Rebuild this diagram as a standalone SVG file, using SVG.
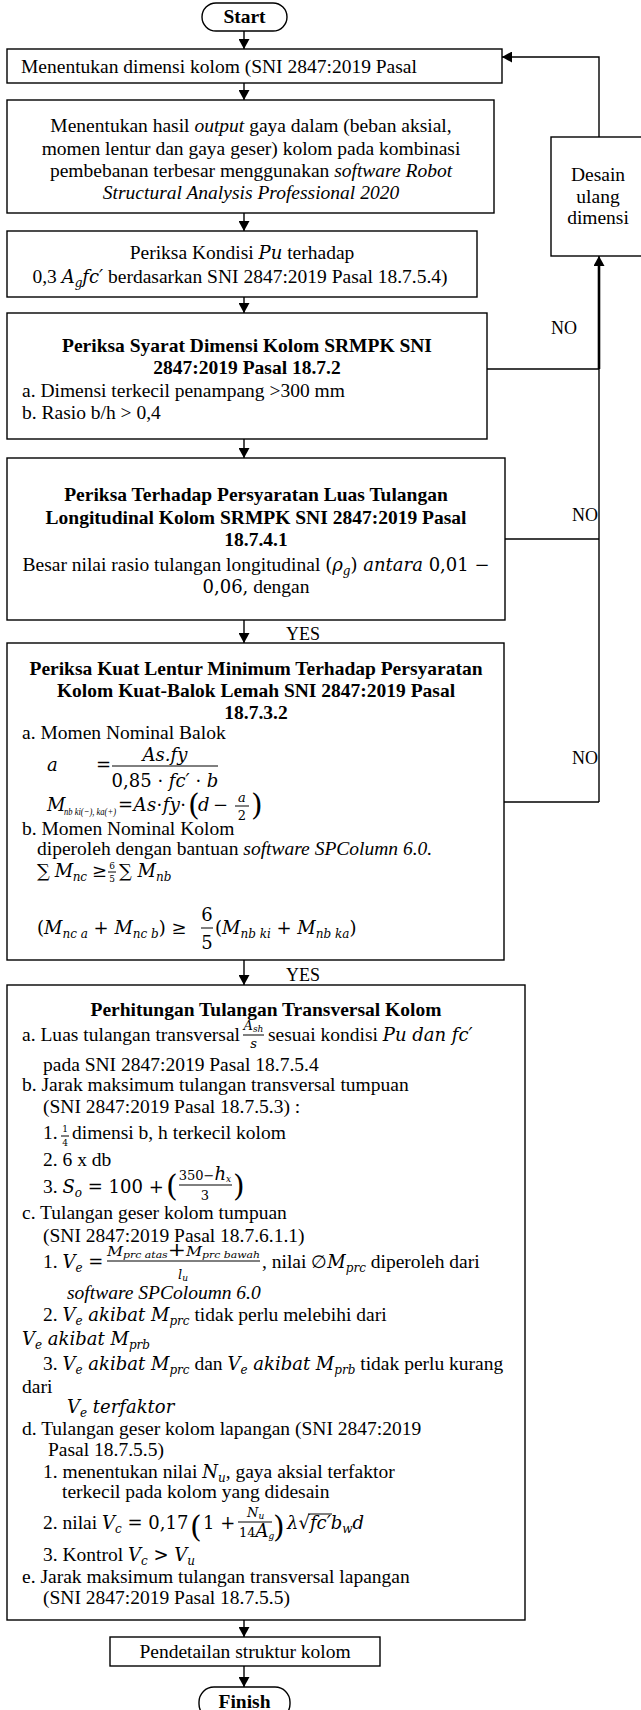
<svg xmlns="http://www.w3.org/2000/svg" width="641" height="1710" viewBox="0 0 641 1710">
<defs>
<style>
text { font-family: "Liberation Serif", "Times New Roman", serif; font-size: 19.5px; fill: #000; }
.b { font-weight: bold; }
.i { font-style: italic; }
.c { text-anchor: middle; }
.e { text-anchor: end; }
.m { font-family: "DejaVu Serif", serif; font-style: italic; font-size: 18px; }
.mu { font-family: "DejaVu Serif", serif; font-style: normal; font-size: 18px; }
.li { font-family: "Liberation Serif", serif; font-style: italic; font-size: 10.5px; }
.s { font-size: 12px; }
.fr { font-size: 13px; }
.fs { font-size: 9px; }
.big { font-family: "DejaVu Serif", serif; font-style: normal; font-size: 30px; }
.lbl { font-size: 18px; }
.box { fill: #fff; stroke: #000; stroke-width: 1.4; }
.ln { fill: none; stroke: #000; stroke-width: 1.4; }
.bar { stroke: #000; stroke-width: 1; }
</style>
<marker id="ah" viewBox="0 0 10 11" refX="10" refY="5.5" markerWidth="10" markerHeight="11" markerUnits="userSpaceOnUse" orient="auto"><path d="M0,0 L10,5.5 L0,11 Z" fill="#000"/></marker>
</defs>
<rect width="641" height="1710" fill="#fff"/>

<g id="connectors">
<g class="ln">
<line x1="244" y1="31" x2="244" y2="49" marker-end="url(#ah)"/>
<line x1="244" y1="83" x2="244" y2="100" marker-end="url(#ah)"/>
<line x1="244" y1="213" x2="244" y2="231" marker-end="url(#ah)"/>
<line x1="244" y1="297" x2="244" y2="313" marker-end="url(#ah)"/>
<line x1="244" y1="439" x2="244" y2="458" marker-end="url(#ah)"/>
<line x1="244" y1="620" x2="244" y2="643" marker-end="url(#ah)"/>
<line x1="244" y1="960" x2="244" y2="985" marker-end="url(#ah)"/>
<line x1="244" y1="1620" x2="244" y2="1637" marker-end="url(#ah)"/>
<line x1="244" y1="1666" x2="244" y2="1687" marker-end="url(#ah)"/>
<polyline points="599,137 599,57 502,57" marker-end="url(#ah)"/>
<line x1="599" y1="802" x2="599" y2="256" marker-end="url(#ah)"/>
<line x1="599" y1="266" x2="599" y2="369" stroke-width="2.6"/>
<line x1="487" y1="369" x2="599" y2="369"/>
<line x1="505" y1="539" x2="599" y2="539"/>
<line x1="504" y1="802" x2="599" y2="802"/>
</g>
<text x="286" y="640" class="lbl">YES</text>
<text x="286" y="981" class="lbl">YES</text>
<text x="551" y="334" class="lbl">NO</text>
<text x="598" y="521" class="lbl e">NO</text>
<text x="598" y="764" class="lbl e">NO</text>
</g>

<g id="start">
<rect x="202" y="3" width="85" height="28" rx="14" class="box"/>
<text x="244.5" y="23" class="b c">Start</text>
</g>

<g id="n1">
<rect x="7" y="49" width="495" height="34" class="box"/>
<text x="21" y="73">Menentukan dimensi kolom (SNI 2847:2019 Pasal</text>
</g>

<g id="n2">
<rect x="7" y="100" width="487" height="113" class="box"/>
<text x="251" y="132" class="c">Menentukan hasil <tspan class="i">output</tspan> gaya dalam (beban aksial,</text>
<text x="251" y="154.5" class="c">momen lentur dan gaya geser) kolom pada kombinasi</text>
<text x="251" y="177" class="c">pembebanan terbesar menggunakan <tspan class="i">software Robot</tspan></text>
<text x="251" y="199" class="c i">Structural Analysis Professional 2020</text>
</g>

<g id="n3">
<rect x="7" y="231" width="470" height="66" class="box"/>
<text x="242" y="259" class="c">Periksa Kondisi <tspan class="m">Pu</tspan> terhadap</text>
<text x="240" y="283" class="c">0,3 <tspan class="m">A</tspan><tspan class="m s" dy="4">g</tspan><tspan class="m" dy="-4">fc′</tspan> berdasarkan SNI 2847:2019 Pasal 18.7.5.4)</text>
</g>

<g id="n4">
<rect x="7" y="313" width="480" height="126" class="box"/>
<text x="247" y="352" class="c b">Periksa Syarat Dimensi Kolom SRMPK SNI</text>
<text x="247" y="374" class="c b">2847:2019 Pasal 18.7.2</text>
<text x="22" y="397">a. Dimensi terkecil penampang &gt;300 mm</text>
<text x="22" y="419">b. Rasio b/h &gt; 0,4</text>
</g>

<g id="n5">
<rect x="7" y="458" width="498" height="162" class="box"/>
<text x="256" y="501" class="c b">Periksa Terhadap Persyaratan Luas Tulangan</text>
<text x="256" y="524" class="c b">Longitudinal Kolom SRMPK SNI 2847:2019 Pasal</text>
<text x="256" y="546" class="c b">18.7.4.1</text>
<text x="256" y="571" class="c">Besar nilai rasio tulangan longitudinal <tspan class="mu">(</tspan><tspan class="m">ρ</tspan><tspan class="m s" dy="4">g</tspan><tspan class="mu" dy="-4">) </tspan><tspan class="m">antara</tspan><tspan class="mu"> 0,01 −</tspan></text>
<text x="256" y="593" class="c"><tspan class="mu">0,06,</tspan> dengan</text>
</g>

<g id="n6">
<rect x="7" y="643" width="497" height="317" class="box"/>
<text x="256" y="675" class="c b">Periksa Kuat Lentur Minimum Terhadap Persyaratan</text>
<text x="256" y="697" class="c b">Kolom Kuat-Balok Lemah SNI 2847:2019 Pasal</text>
<text x="256" y="719" class="c b">18.7.3.2</text>
<text x="22" y="739">a. Momen Nominal Balok</text>
<text x="47" y="771" class="m">a</text>
<text x="96" y="771" class="mu">=</text>
<text x="165" y="761" class="m c">As.fy</text>
<line x1="112" y1="766" x2="218" y2="766" class="bar"/>
<text x="165" y="787" class="mu c">0,85 · <tspan class="m">fc′</tspan> · <tspan class="m">b</tspan></text>
<text x="47" y="811" class="m">M</text>
<text x="64" y="815" class="li" textLength="52" lengthAdjust="spacingAndGlyphs">nb ki(−), ka(+)</text>
<text x="118" y="811" class="mu" textLength="68" lengthAdjust="spacing">=<tspan class="m">As</tspan>·<tspan class="m">fy</tspan>·</text>
<text x="188" y="815" class="big" font-size="26">(</text>
<text x="198" y="811" class="m">d</text>
<text x="213" y="811" class="mu">−</text>
<text x="242" y="802" class="m c fr">a</text>
<line x1="235" y1="806" x2="249" y2="806" class="bar"/>
<text x="242" y="820" class="mu c fr">2</text>
<text x="251" y="815" class="big" font-size="26">)</text>
<text x="22" y="835">b. Momen Nominal Kolom</text>
<text x="37" y="855">diperoleh dengan bantuan <tspan class="i">software SPColumn 6.0.</tspan></text>
<text x="37" y="877" textLength="70" lengthAdjust="spacing"><tspan class="mu">∑ </tspan><tspan class="m">M</tspan><tspan class="m s" dy="4">nc</tspan><tspan class="mu" dy="-4"> ≥</tspan></text>
<text x="112" y="869" class="mu c fs">6</text>
<line x1="108" y1="872" x2="116" y2="872" class="bar"/>
<text x="112" y="882" class="mu c fs">5</text>
<text x="119" y="877"><tspan class="mu">∑ </tspan><tspan class="m">M</tspan><tspan class="m s" dy="4">nb</tspan></text>
<text x="37" y="934"><tspan class="mu">(</tspan><tspan class="m">M</tspan><tspan class="m s" dy="4">nc a</tspan><tspan class="mu" dy="-4"> + </tspan><tspan class="m">M</tspan><tspan class="m s" dy="4">nc b</tspan><tspan class="mu" dy="-4">) ≥</tspan></text>
<text x="207" y="921" class="mu c">6</text>
<line x1="201" y1="928" x2="213" y2="928" class="bar"/>
<text x="207" y="949" class="mu c">5</text>
<text x="215" y="934"><tspan class="mu">(</tspan><tspan class="m">M</tspan><tspan class="m s" dy="4">nb ki</tspan><tspan class="mu" dy="-4"> + </tspan><tspan class="m">M</tspan><tspan class="m s" dy="4">nb ka</tspan><tspan class="mu" dy="-4">)</tspan></text>
</g>

<g id="n7">
<rect x="7" y="985" width="518" height="635" class="box"/>
<text x="266" y="1016" class="c b">Perhitungan Tulangan Transversal Kolom</text>
<text x="22" y="1041" textLength="218" lengthAdjust="spacing">a. Luas tulangan transversal</text>
<text x="243.5" y="1030" class="m fr">A<tspan class="fs" dy="2">sh</tspan></text>
<line x1="243" y1="1035" x2="264" y2="1035" class="bar"/>
<text x="253.5" y="1048" class="m c fr">s</text>
<text x="268" y="1041">sesuai kondisi <tspan class="m">Pu dan fc′</tspan></text>
<text x="43" y="1071">pada SNI 2847:2019 Pasal 18.7.5.4</text>
<text x="22" y="1091">b. Jarak maksimum tulangan transversal tumpuan</text>
<text x="43" y="1113">(SNI 2847:2019 Pasal 18.7.5.3) :</text>
<text x="43" y="1139">1.</text>
<text x="65" y="1132" class="mu c fs">1</text>
<line x1="61" y1="1136" x2="69" y2="1136" class="bar"/>
<text x="65" y="1146" class="mu c fs">4</text>
<text x="72" y="1139">dimensi b, h terkecil kolom</text>
<text x="43" y="1166">2. 6 x db</text>
<text x="43" y="1193">3. <tspan class="m">S</tspan><tspan class="m s" dy="4">o</tspan><tspan class="mu" dy="-4"> = 100 +</tspan></text>
<text x="166" y="1196" class="big">(</text>
<text x="205" y="1180" class="mu c fr">350−<tspan class="m">h</tspan><tspan class="m fs" dy="2">x</tspan></text>
<line x1="179" y1="1185" x2="232" y2="1185" class="bar"/>
<text x="205" y="1200" class="mu c fr">3</text>
<text x="233" y="1196" class="big">)</text>
<text x="22" y="1219">c. Tulangan geser kolom tumpuan</text>
<text x="43" y="1242">(SNI 2847:2019 Pasal 18.7.6.1.1)</text>
<text x="43" y="1268">1. <tspan class="m">V</tspan><tspan class="m s" dy="4">e</tspan><tspan class="mu" dy="-4"> =</tspan></text>
<text x="107" y="1256" class="m fr" textLength="153" lengthAdjust="spacingAndGlyphs">M<tspan class="fs" dy="2">prc atas</tspan><tspan class="mu" dy="-2">+</tspan>M<tspan class="fs" dy="2">prc bawah</tspan></text>
<line x1="107" y1="1261" x2="260" y2="1261" class="bar"/>
<text x="178" y="1279" class="m fr">l<tspan class="fs" dy="2">u</tspan></text>
<text x="262" y="1268">, nilai <tspan class="mu">∅</tspan><tspan class="m">M</tspan><tspan class="m s" dy="4">prc</tspan><tspan dy="-4"> diperoleh dari</tspan></text>
<text x="67" y="1299" class="i">software SPColoumn 6.0</text>
<text x="43" y="1321">2. <tspan class="m">V</tspan><tspan class="m s" dy="4">e</tspan><tspan class="m" dy="-4"> akibat M</tspan><tspan class="m s" dy="4">prc</tspan><tspan dy="-4"> tidak perlu melebihi dari</tspan></text>
<text x="22" y="1345"><tspan class="m">V</tspan><tspan class="m s" dy="4">e</tspan><tspan class="m" dy="-4"> akibat M</tspan><tspan class="m s" dy="4">prb</tspan></text>
<text x="43" y="1370">3. <tspan class="m">V</tspan><tspan class="m s" dy="4">e</tspan><tspan class="m" dy="-4"> akibat M</tspan><tspan class="m s" dy="4">prc</tspan><tspan dy="-4"> dan </tspan><tspan class="m">V</tspan><tspan class="m s" dy="4">e</tspan><tspan class="m" dy="-4"> akibat M</tspan><tspan class="m s" dy="4">prb</tspan><tspan dy="-4"> tidak perlu kurang</tspan></text>
<text x="22" y="1393">dari</text>
<text x="67" y="1413"><tspan class="m">V</tspan><tspan class="m s" dy="4">e</tspan><tspan class="m" dy="-4"> terfaktor</tspan></text>
<text x="22" y="1435">d. Tulangan geser kolom lapangan (SNI 2847:2019</text>
<text x="48" y="1456">Pasal 18.7.5.5)</text>
<text x="43" y="1478">1. menentukan nilai <tspan class="m">N</tspan><tspan class="m s" dy="4">u</tspan><tspan dy="-4">, gaya aksial terfaktor</tspan></text>
<text x="62" y="1498">terkecil pada kolom yang didesain</text>
<text x="43" y="1529">2. nilai <tspan class="m">V</tspan><tspan class="m s" dy="4">c</tspan><tspan class="mu" dy="-4"> = 0,17</tspan></text>
<text x="190" y="1537" class="big" font-size="38">(</text>
<text x="203" y="1529" class="mu">1 +</text>
<text x="247" y="1517" class="m fr">N<tspan class="fs" dy="2">u</tspan></text>
<line x1="238" y1="1522" x2="272" y2="1522" class="bar"/>
<text x="239" y="1537" class="mu fr">14<tspan class="m">A</tspan><tspan class="m fs" dy="2">g</tspan></text>
<text x="273" y="1537" class="big" font-size="38">)</text>
<text x="287" y="1529"><tspan class="m">λ</tspan><tspan class="mu">√</tspan><tspan class="m">fc′</tspan><tspan class="m">b</tspan><tspan class="m s" dy="4">w</tspan><tspan class="m" dy="-4">d</tspan></text>
<line x1="308" y1="1514" x2="332" y2="1514" class="bar"/>
<text x="43" y="1561">3. Kontrol <tspan class="m">V</tspan><tspan class="m s" dy="4">c</tspan><tspan class="mu" dy="-4"> &gt; </tspan><tspan class="m">V</tspan><tspan class="m s" dy="4">u</tspan></text>
<text x="22" y="1583">e. Jarak maksimum tulangan transversal lapangan</text>
<text x="43" y="1604">(SNI 2847:2019 Pasal 18.7.5.5)</text>
</g>

<g id="n8">
<rect x="110" y="1637" width="270" height="29" class="box"/>
<text x="245" y="1658" class="c">Pendetailan struktur kolom</text>
</g>

<g id="finish">
<rect x="199" y="1687" width="91" height="32" rx="15" class="box"/>
<text x="244.5" y="1708" class="b c">Finish</text>
</g>

<g id="desain">
<rect x="551" y="137" width="100" height="119" class="box"/>
<text x="598" y="181" class="c">Desain</text>
<text x="598" y="203" class="c">ulang</text>
<text x="598" y="224" class="c">dimensi</text>
</g>
</svg>
